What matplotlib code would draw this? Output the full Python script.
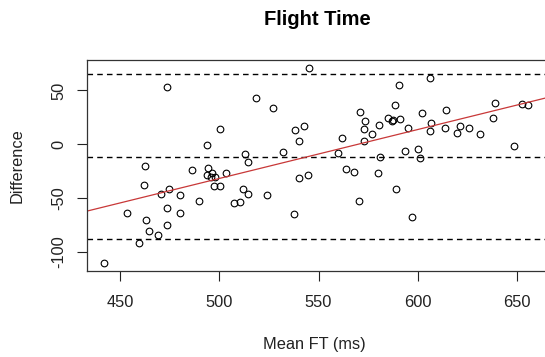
import numpy as np
import matplotlib
matplotlib.use("Agg")
import matplotlib.pyplot as plt

# Bland-Altman style data: mean flight time vs difference
mean_ft = [441.8, 453.3, 459.6, 462.5, 462.0, 463.1, 464.3, 469.2, 470.7, 473.5,
           473.3, 473.5, 474.4, 480.3, 480.3, 485.9, 489.7, 493.6, 494.4, 493.6,
           495.5, 496.3, 497.6, 497.2, 500.5, 500.5, 503.3, 507.5, 510.3, 512.0,
           513.1, 514.6, 514.6, 518.5, 523.9, 526.8, 532.1, 537.5, 538.0, 540.1,
           540.2, 542.9, 544.6, 545.1, 559.9, 562.0, 564.1, 567.9, 570.2, 570.7,
           572.8, 573.5, 572.8, 577.2, 580.0, 580.5, 581.2, 585.0, 586.9, 587.6,
           588.7, 589.2, 590.4, 591.3, 593.4, 595.1, 597.2, 600.0, 601.4, 602.1,
           606.3, 606.4, 607.0, 613.6, 614.1, 620.0, 621.6, 626.0, 631.4, 638.0,
           639.0, 648.9, 652.6, 655.9]
difference = [-110.2, -63.7, -91.9, -20.2, -38.2, -69.9, -80.7, -83.9, -46.6, 52.8,
              -59.6, -74.8, -41.3, -47.5, -63.7, -24.2, -52.5, -0.9, -22.0, -28.9,
              -30.7, -26.4, -30.4, -39.1, 14.3, -39.1, -27.0, -54.7, -53.4, -41.3,
              -8.7, -16.1, -46.6, 42.9, -47.5, 33.5, -6.8, -64.6, 13.4, -31.1,
              3.4, 17.4, -28.3, 71.1, -8.1, 6.2, -23.0, -26.1, -52.5, 30.4,
              14.3, 21.7, 3.4, 9.3, -27.0, 18.3, -11.8, 24.5, 21.7, 23.0,
              36.6, -41.3, 54.7, 23.6, -5.9, 15.2, -67.7, -4.7, -12.7, 29.5,
              61.8, 12.4, 19.6, 15.2, 31.7, 10.2, 17.4, 15.2, 9.3, 24.5,
              38.5, -1.9, 37.6, 36.6]

# reference lines: mean difference and limits of agreement
mean_diff = -11.8
upper_loa = 65.2
lower_loa = -88.0

# regression of difference on mean
fit_slope = 0.454
fit_intercept = -258.7

x_ticks = [450, 500, 550, 600, 650]
y_ticks = [-100, -50, 0, 50]

plt.rcParams['font.family'] = ['Liberation Sans', 'DejaVu Sans']

fig = plt.figure(figsize=(5.45, 3.57), dpi=100)
ax = fig.add_axes([0.160, 0.2417, 0.8406, 0.5903])

x = np.array(mean_ft)
y = np.array(difference)
pad_x = 0.04 * (x.max() - x.min())
pad_y = 0.04 * (y.max() - y.min())
xlim = (x.min() - pad_x, x.max() + pad_x)
ax.set_xlim(xlim)
ax.set_ylim(y.min() - pad_y, y.max() + pad_y)

ax.plot(x, y, 'o', markersize=4.8, markerfacecolor='none',
        markeredgecolor='black', markeredgewidth=0.8)

for level in [upper_loa, mean_diff, lower_loa]:
    ax.axhline(level, color='black', linewidth=1.0, linestyle=(0, (4, 3)))

xs = np.array(xlim)
ax.plot(xs, fit_intercept + fit_slope * xs, color='#c83838', linewidth=0.9)

ax.set_xticks(x_ticks)
ax.set_yticks(y_ticks)
ax.set_yticklabels([str(v) for v in y_ticks], rotation=90, va='center')
ax.tick_params(axis='both', direction='out', length=7.2, width=0.8,
               labelsize=11.8, colors='#222222')
ax.tick_params(axis='x', pad=10.5)
ax.tick_params(axis='y', pad=7.8)
for spine in ax.spines.values():
    spine.set_color('#333333')
    spine.set_linewidth(0.9)
ax.spines['right'].set_visible(False)

fig.text(317 / 545, 1 - 19.5 / 357, 'Flight Time', ha='center', va='center',
         fontsize=14.5, fontweight='bold')
fig.text(0.577, 1 - 345 / 357, 'Mean FT (ms)', ha='center', va='center',
         fontsize=11.8, color='#222222')
fig.text(17 / 545, 0.537, 'Difference', ha='center', va='center',
         rotation=90, fontsize=11.8, color='#222222')

fig.savefig('out.png', dpi=100)
